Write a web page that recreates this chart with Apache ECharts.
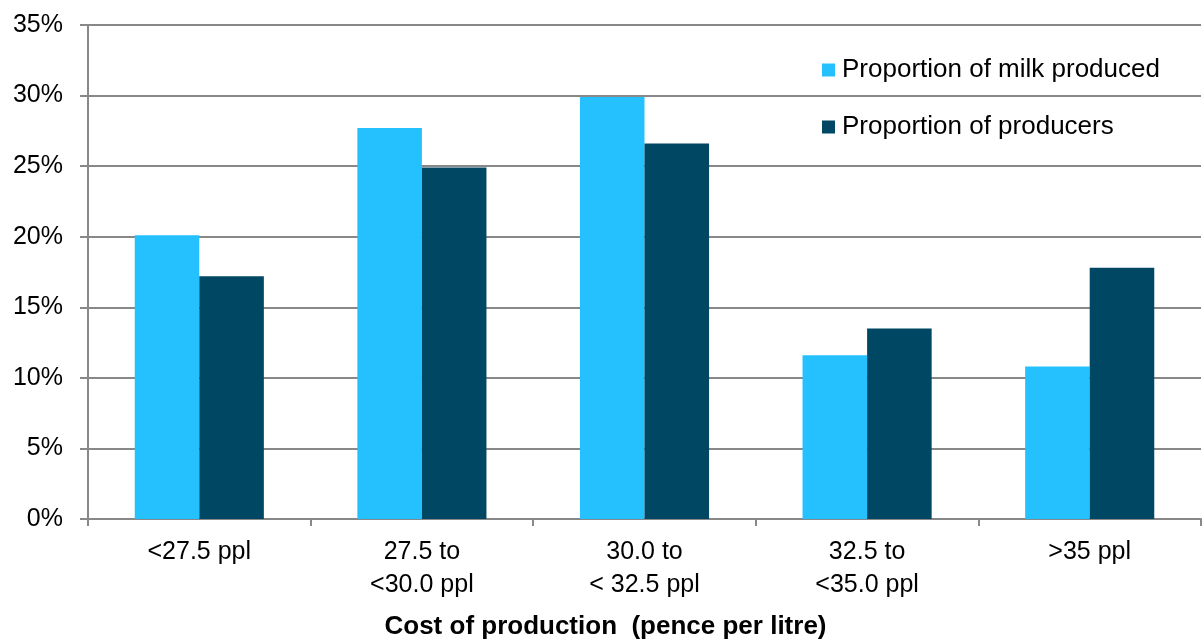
<!DOCTYPE html>
<html>
<head>
<meta charset="utf-8">
<script src="https://cdn.jsdelivr.net/npm/echarts@6/dist/echarts.min.js"></script>
<style>
  html, body { margin: 0; padding: 0; background: #fff; }
  #chart { width: 1202px; height: 639px; }
</style>
</head>
<body>
<div id="chart"></div>
<script>
// Cost-of-production bands (pence per litre)
const categories = ['<27.5 ppl', '27.5 to\n<30.0 ppl', '30.0 to\n< 32.5 ppl', '32.5 to\n<35.0 ppl', '>35 ppl'];
// Share of milk volume in each band (%)
const milkProduced = [20.1, 27.7, 29.9, 11.6, 10.8];
// Share of producers in each band (%)
const producers = [17.2, 24.9, 26.6, 13.5, 17.8];
const yTicks = { min: 0, max: 35, interval: 5 };

const font = '"Liberation Sans", Arial, sans-serif';
const chart = echarts.init(document.getElementById('chart'));
chart.setOption({
  animation: false,
  backgroundColor: '#fff',
  textStyle: { fontFamily: font },
  grid: { left: 88, right: 1, top: 25, bottom: 120, containLabel: false, outerBoundsMode: 'none' },
  legend: {
    orient: 'vertical',
    left: 817,
    top: 52,
    itemWidth: 13,
    itemHeight: 13,
    itemGap: 31,
    icon: 'rect',
    textStyle: { fontFamily: font, fontSize: 26, color: '#000', padding: [0, 0, 0, 2] },
    data: ['Proportion of milk produced', 'Proportion of producers']
  },
  xAxis: {
    type: 'category',
    data: categories,
    name: 'Cost of production  (pence per litre)',
    nameLocation: 'middle',
    nameGap: 95,
    nameTextStyle: { fontFamily: font, fontSize: 26, fontWeight: 'bold', color: '#000', padding: [0, 78, 0, 0] },
    axisLine: { lineStyle: { color: '#888', width: 2 } },
    axisTick: { show: true, length: 7, lineStyle: { color: '#888', width: 2 } },
    axisLabel: { fontFamily: font, fontSize: 25, color: '#000', margin: 17, lineHeight: 33 }
  },
  yAxis: {
    type: 'value',
    min: yTicks.min,
    max: yTicks.max,
    interval: yTicks.interval,
    axisLine: { show: true, lineStyle: { color: '#888', width: 2 } },
    axisTick: { show: true, inside: false, length: 8, lineStyle: { color: '#888', width: 2 } },
    splitLine: { lineStyle: { color: '#888', width: 2 } },
    axisLabel: { fontFamily: font, fontSize: 25, color: '#000', margin: 25, formatter: '{value}%' }
  },
  series: [
    {
      name: 'Proportion of milk produced',
      type: 'bar',
      data: milkProduced,
      barGap: '0%',
      barCategoryGap: '42%',
      itemStyle: { color: '#25C1FF' }
    },
    {
      name: 'Proportion of producers',
      type: 'bar',
      data: producers,
      barGap: '0%',
      barCategoryGap: '42%',
      itemStyle: { color: '#004763' }
    }
  ]
});
</script>
</body>
</html>
